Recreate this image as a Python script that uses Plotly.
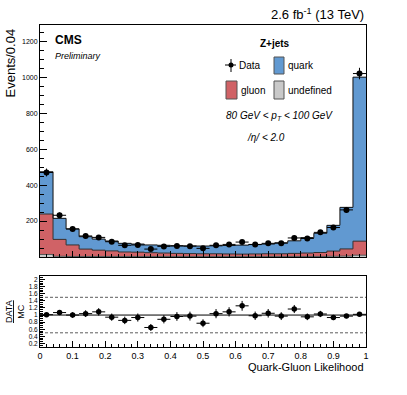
import numpy as np
import plotly.graph_objects as go

# bin centres of the quark-gluon likelihood (25 bins, width 0.04)
bin_centers = [0.02 + 0.04 * i for i in range(25)]

undefined = [14, 4, 3, 3, 3, 3, 3, 3, 3, 3, 3, 3, 3, 3, 3, 3, 3, 3, 3, 3, 3, 3, 4, 5, 10]
gluon = [225, 94, 64, 41, 35, 31, 25, 24, 21, 19, 17, 16, 15, 15, 14, 13, 14, 15, 15, 17, 19, 22, 29, 40, 78]
quark = [235, 117, 89, 69, 62, 55, 48, 45, 43, 43, 43, 43, 43, 44, 47, 50, 53, 54, 61, 70, 86, 107, 143, 231, 912]
data = [470, 232, 156, 117, 109, 85, 65, 67, 44, 59, 61, 60, 48, 65, 70, 83, 69, 76, 77, 106, 103, 137, 164, 262, 1020]
ratio = [1.01, 1.07, 1.0, 1.04, 1.09, 0.94, 0.85, 0.93, 0.65, 0.88, 0.96, 0.97, 0.77, 1.04, 1.09, 1.26,
         0.98, 1.05, 0.97, 1.17, 0.95, 1.03, 0.93, 0.97, 1.02]

BLUE = "#6199d1"
RED = "#d06266"
GREY = "#c9c9c9"
FONT = "Liberation Sans"

level1 = np.array(undefined)
level2 = level1 + np.array(gluon)
level3 = level2 + np.array(quark)
data_err = np.sqrt(np.array(data))
ratio_err = np.array(ratio) * data_err / np.array(data)

edges = [0.04 * i for i in range(26)]


def step(vals):
    return edges, list(vals) + [vals[-1]]


fig = go.Figure()
for name, vals, col in [("undefined", undefined, GREY), ("gluon", gluon, RED), ("quark", quark, BLUE)]:
    fig.add_trace(go.Bar(x=bin_centers, y=vals, width=0.04, marker=dict(color=col, line=dict(width=0)),
                         name=name, showlegend=False, xaxis="x", yaxis="y"))

for lvl, col in [(level1, "#555555"), (level2, "#333333"), (level3, "#111111")]:
    sx, sy = step(lvl)
    fig.add_trace(go.Scatter(x=sx, y=sy, mode="lines", line=dict(color=col, width=1, shape="hv"),
                             showlegend=False, hoverinfo="skip", xaxis="x", yaxis="y"))

fig.add_trace(go.Scatter(x=bin_centers, y=data, mode="markers",
                         marker=dict(color="black", size=6),
                         error_y=dict(type="data", array=data_err, color="black", thickness=1, width=0),
                         error_x=dict(type="constant", value=0.02, color="black", thickness=1, width=0),
                         showlegend=False, xaxis="x", yaxis="y"))

# ratio panel
fig.add_trace(go.Scatter(x=[0, 1], y=[1, 1], mode="lines", line=dict(color="black", width=1),
                         showlegend=False, hoverinfo="skip", xaxis="x2", yaxis="y2"))
for lv in [0.5, 1.5]:
    fig.add_trace(go.Scatter(x=[0, 1], y=[lv, lv], mode="lines",
                             line=dict(color="#333333", width=0.8, dash="3px,2px"),
                             showlegend=False, hoverinfo="skip", xaxis="x2", yaxis="y2"))
fig.add_trace(go.Scatter(x=bin_centers, y=ratio, mode="markers",
                         marker=dict(color="black", size=5.5),
                         error_y=dict(type="data", array=ratio_err, color="black", thickness=1, width=0),
                         error_x=dict(type="constant", value=0.02, color="black", thickness=1, width=0),
                         showlegend=False, xaxis="x2", yaxis="y2"))

# pixel -> paper helpers (plot area 40..366 x 25..347)
def px(x):
    return (x - 40) / 326.0


def py(y):
    return (347 - y) / 322.0


ann = []


def text(x, y, t, size, xanchor="left", yanchor="middle", angle=0):
    ann.append(dict(x=px(x), y=py(y), xref="paper", yref="paper", text=t, showarrow=False,
                    xanchor=xanchor, yanchor=yanchor, textangle=angle,
                    font=dict(family=FONT, size=size, color="black")))


text(366, 14, "2.6 fb<sup>-1</sup> (13 TeV)", 13, xanchor="right")
text(53, 40, "<b>CMS</b>", 12)
text(53, 56, "<i>Preliminary</i>", 9)
text(275, 43, "<b>Z+jets</b>", 10, xanchor="center")
text(237, 66, "Data", 10)
text(286, 66, "quark", 10)
text(239, 90, "gluon", 10)
text(286, 90, "undefined", 10)
text(279, 116, "<i>80 GeV &lt; p<sub>T</sub> &lt; 100 GeV</i>", 10, xanchor="center")
text(266, 137, "<i>/η/ &lt; 2.0</i>", 10, xanchor="center")
text(10, 27, "Events/0.04", 13, xanchor="center", yanchor="top", angle=-90)
text(15, 312, "<u>DATA</u><br>MC", 9, xanchor="center", angle=-90)
text(366, 367, "Quark-Gluon Likelihood", 11, xanchor="right")

shapes = []
for x0, x1, y0, y1, col in [(274, 284, 57, 74, BLUE), (226, 237, 81, 99, RED), (274, 284, 81, 99, GREY)]:
    shapes.append(dict(type="rect", xref="paper", yref="paper", x0=px(x0), x1=px(x1), y0=py(y1), y1=py(y0),
                       fillcolor=col, line=dict(color="#555555", width=1)))
# data legend marker
shapes.append(dict(type="line", xref="paper", yref="paper", x0=px(225), x1=px(236), y0=py(65), y1=py(65),
                   line=dict(color="black", width=1)))
shapes.append(dict(type="line", xref="paper", yref="paper", x0=px(231), x1=px(231), y0=py(59), y1=py(72),
                   line=dict(color="black", width=1)))
shapes.append(dict(type="circle", xref="paper", yref="paper", x0=px(228.5), x1=px(233.5), y0=py(67.5), y1=py(62.5),
                   fillcolor="black", line=dict(color="black", width=0)))

axis_common = dict(showline=True, linecolor="black", linewidth=1, mirror=True, ticks="inside",
                   tickcolor="black", showgrid=False, zeroline=False, automargin=False)

fig.update_layout(
    width=407, height=395,
    margin=dict(l=40, r=41, t=25, b=48),
    paper_bgcolor="white", plot_bgcolor="white",
    barmode="stack", bargap=0,
    font=dict(family=FONT, color="black"),
    xaxis=dict(domain=[0, 1], anchor="y", range=[0, 1], showticklabels=False, ticklen=6,
               dtick=0.1, minor=dict(ticks="inside", dtick=0.02, ticklen=3, tickcolor="black"), **axis_common),
    yaxis=dict(domain=[0.2795, 1], anchor="x", range=[0, 1290], tickvals=[200, 400, 600, 800, 1000, 1200],
               ticklen=7, tickfont=dict(size=7), minor=dict(ticks="inside", dtick=50, ticklen=4, tickcolor="black"),
               **axis_common),
    xaxis2=dict(domain=[0, 1], anchor="y2", range=[0, 1], matches="x", dtick=0.1, ticklen=6,
                tickfont=dict(size=9), minor=dict(ticks="inside", dtick=0.02, ticklen=3, tickcolor="black"),
                **axis_common),
    yaxis2=dict(domain=[0, 0.2205], anchor="x2", range=[0.1, 2.1],
                tickvals=[0.2, 0.4, 0.6, 0.8, 1, 1.2, 1.4, 1.6, 1.8, 2],
                ticktext=["0.2", "0.4", "0.6", "0.8", "1", "1.2", "1.4", "1.6", "1.8", "2"],
                ticklen=5, tickfont=dict(size=6.5), minor=dict(ticks="inside", dtick=0.05, ticklen=3, tickcolor="black"),
                **axis_common),
    annotations=ann,
    shapes=shapes,
)

# drop the default 8px page margin so the figure sits at the window corner
fig.write_html("out.html", config={"displayModeBar": False},
               post_script="document.body.style.margin='0';")
